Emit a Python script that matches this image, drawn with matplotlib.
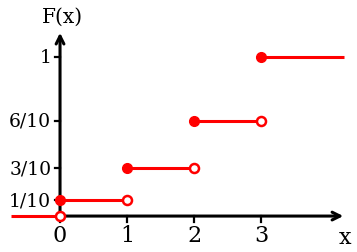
import numpy as np
from matplotlib import pyplot as plt

# step function data
xs = [0, 1, 2, 3]
F = [0.1, 0.3, 0.6, 1.0]
ytick_vals = [0.1, 0.3, 0.6, 1.0]
ytick_labels = ['1/10', '3/10', '6/10', '1']
xtick_labels = ['0', '1', '2', '3']
x_left = -0.73
x_right = 4.24

red = '#ff0000'
fig = plt.figure(figsize=(3.57, 2.53), dpi=100)
ax = fig.add_axes([0, 0, 1, 1])
ax.set_xlim(-0.896, 4.433)
ax.set_ylim(-0.226, 1.365)
ax.axis('off')

# axes with arrows
ax.annotate('', xy=(4.27, 0), xytext=(0, 0),
            arrowprops=dict(arrowstyle='->', lw=2.2, color='black', mutation_scale=14))
ax.annotate('', xy=(0, 1.17), xytext=(0, 0),
            arrowprops=dict(arrowstyle='->', lw=2.2, color='black', mutation_scale=14))

# ticks
for x, lab in zip(xs, xtick_labels):
    ax.plot([x, x], [0, -0.035], color='black', lw=1.6)
    ax.text(x, -0.05, lab, ha='center', va='top', fontsize=16, family='DejaVu Serif')
for y, lab in zip(ytick_vals, ytick_labels):
    ax.plot([0, -0.075], [y, y], color='black', lw=1.6)
    ax.text(-0.13, y, lab, ha='right', va='center', fontsize=13.5, family='DejaVu Serif')

ax.text(0.03, 1.255, 'F(x)', ha='center', va='center', fontsize=14.5, family='DejaVu Serif')
ax.text(4.25, -0.13, 'x', ha='center', va='center', fontsize=16, family='DejaVu Serif')

# steps
lefts = [x_left] + xs
rights = xs + [x_right]
vals = [0] + F
for a, b, v in zip(lefts, rights, vals):
    ax.plot([a, b], [v, v], color=red, lw=2.2, solid_capstyle='butt', zorder=3)
# filled points
ax.plot(xs, F, 'o', color=red, ms=7, zorder=4)
# open points
ax.plot(xs, vals[:-1], 'o', mfc='white', mec=red, mew=1.8, ms=6.5, zorder=5)

fig.savefig('out.png', dpi=100)
